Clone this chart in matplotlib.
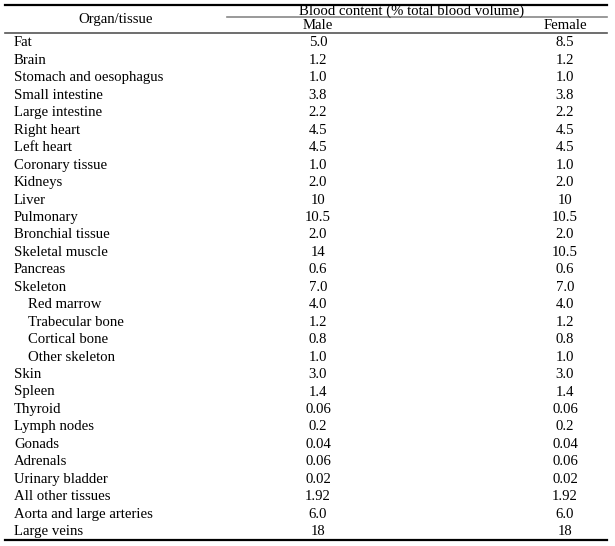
import matplotlib
matplotlib.use("Agg")
import matplotlib.pyplot as plt

# Table content
organs = ["Fat", "Brain", "Stomach and oesophagus", "Small intestine",
          "Large intestine", "Right heart", "Left heart", "Coronary tissue",
          "Kidneys", "Liver", "Pulmonary", "Bronchial tissue",
          "Skeletal muscle", "Pancreas", "Skeleton", "Red marrow",
          "Trabecular bone", "Cortical bone", "Other skeleton", "Skin",
          "Spleen", "Thyroid", "Lymph nodes", "Gonads", "Adrenals",
          "Urinary bladder", "All other tissues", "Aorta and large arteries",
          "Large veins"]
indented = ["Red marrow", "Trabecular bone", "Cortical bone", "Other skeleton"]
male = ["5.0", "1.2", "1.0", "3.8", "2.2", "4.5", "4.5", "1.0", "2.0", "10",
        "10.5", "2.0", "14", "0.6", "7.0", "4.0", "1.2", "0.8", "1.0", "3.0",
        "1.4", "0.06", "0.2", "0.04", "0.06", "0.02", "1.92", "6.0", "18"]
female = ["8.5", "1.2", "1.0", "3.8", "2.2", "4.5", "4.5", "1.0", "2.0", "10",
          "10.5", "2.0", "10.5", "0.6", "7.0", "4.0", "1.2", "0.8", "1.0", "3.0",
          "1.4", "0.06", "0.2", "0.04", "0.06", "0.02", "1.92", "6.0", "18"]
header_left = "Organ/tissue"
header_group = "Blood content (% total blood volume)"
header_cols = ["Male", "Female"]

plt.rcParams['font.family'] = ['Liberation Serif', 'DejaVu Serif']

W, H = 615, 546
fig = plt.figure(figsize=(W / 100, H / 100), dpi=100)
ax = fig.add_axes([0, 0, 1, 1])
ax.set_xlim(0, W)
ax.set_ylim(H, 0)
ax.axis("off")

fs = 10.6
x_left, x_right = 5, 607
col_x = [318, 565]
row0, dy = 43, 17.45

# rules
ax.plot([x_left, x_right], [5, 5], color="black", lw=1.6)
ax.plot([227, x_right], [16.5, 16.5], color="#888888", lw=1.2)
ax.plot([x_left, x_right], [32.5, 32.5], color="#555555", lw=1.2)
ax.plot([x_left, x_right], [539.5, 539.5], color="black", lw=1.6)

# header
ax.text(116, 20, header_left, fontsize=fs, ha="center", va="center")
ax.text(412, 11, header_group, fontsize=fs, ha="center", va="center")
for x, lab in zip(col_x, header_cols):
    ax.text(x, 25.5, lab, fontsize=fs, ha="center", va="center")

# body
for i, name in enumerate(organs):
    y = row0 + i * dy
    x = 28 if name in indented else 14
    ax.text(x, y, name, fontsize=fs, ha="left", va="center")
    ax.text(col_x[0], y, male[i], fontsize=fs, ha="center", va="center")
    ax.text(col_x[1], y, female[i], fontsize=fs, ha="center", va="center")

fig.savefig("out.png", dpi=100)
